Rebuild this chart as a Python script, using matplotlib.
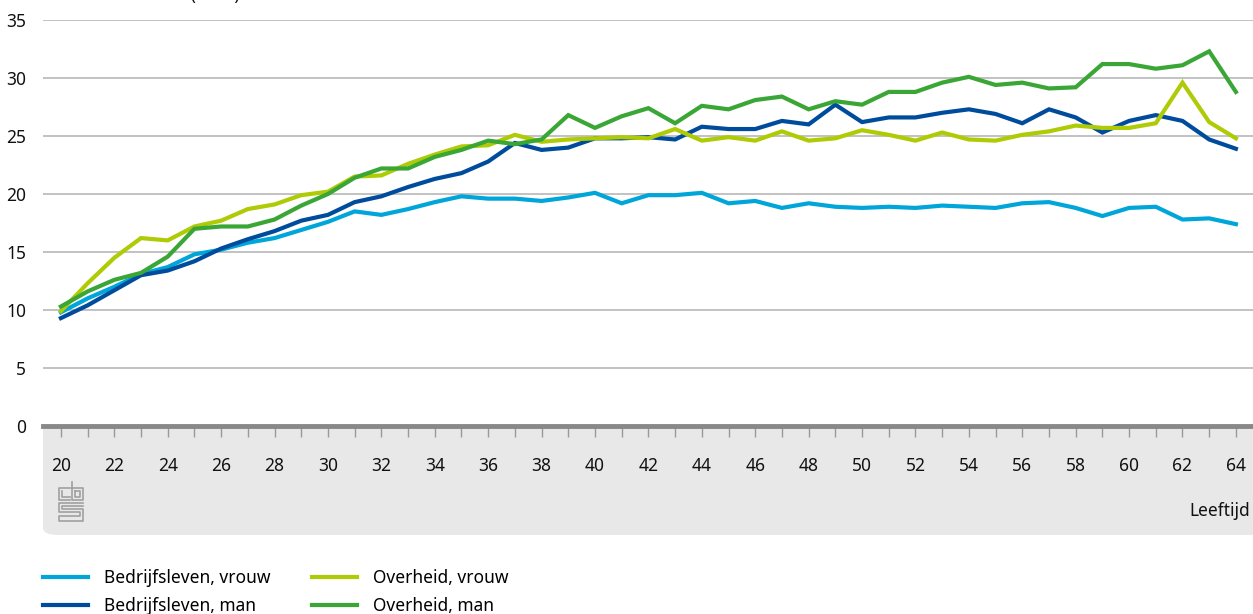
import numpy as np
import matplotlib
matplotlib.use("Agg")
import matplotlib.pyplot as plt
from matplotlib.patches import FancyBboxPatch
from matplotlib.lines import Line2D

plt.rcParams['font.family'] = ['Noto Sans', 'DejaVu Sans']

# data
leeftijd = list(range(20, 65))
bedrijf_vrouw = [9.8, 11.0, 12.0, 13.1, 13.7, 14.8, 15.2, 15.8, 16.2, 16.9,
                 17.6, 18.5, 18.2, 18.7, 19.3, 19.8, 19.6, 19.6, 19.4, 19.7,
                 20.1, 19.2, 19.9, 19.9, 20.1, 19.2, 19.4, 18.8, 19.2, 18.9,
                 18.8, 18.9, 18.8, 19.0, 18.9, 18.8, 19.2, 19.3, 18.8, 18.1,
                 18.8, 18.9, 17.8, 17.9, 17.4]
bedrijf_man = [9.3, 10.4, 11.7, 13.0, 13.4, 14.2, 15.3, 16.1, 16.8, 17.7,
               18.2, 19.3, 19.8, 20.6, 21.3, 21.8, 22.8, 24.4, 23.8, 24.0,
               24.8, 24.8, 24.9, 24.7, 25.8, 25.6, 25.6, 26.3, 26.0, 27.7,
               26.2, 26.6, 26.6, 27.0, 27.3, 26.9, 26.1, 27.3, 26.6, 25.3,
               26.3, 26.8, 26.3, 24.7, 23.9]
overheid_vrouw = [9.9, 12.3, 14.5, 16.2, 16.0, 17.2, 17.7, 18.7, 19.1, 19.9,
                  20.2, 21.5, 21.6, 22.6, 23.4, 24.1, 24.2, 25.1, 24.5, 24.7,
                  24.8, 24.9, 24.8, 25.6, 24.6, 24.9, 24.6, 25.4, 24.6, 24.8,
                  25.5, 25.1, 24.6, 25.3, 24.7, 24.6, 25.1, 25.4, 25.9, 25.7,
                  25.7, 26.1, 29.6, 26.2, 24.8]
overheid_man = [10.3, 11.6, 12.6, 13.2, 14.6, 17.0, 17.2, 17.2, 17.8, 19.0,
                20.0, 21.4, 22.2, 22.2, 23.2, 23.8, 24.6, 24.3, 24.7, 26.8,
                25.7, 26.7, 27.4, 26.1, 27.6, 27.3, 28.1, 28.4, 27.3, 28.0,
                27.7, 28.8, 28.8, 29.6, 30.1, 29.4, 29.6, 29.1, 29.2, 31.2,
                31.2, 30.8, 31.1, 32.3, 28.8]

series = [
    ("Bedrijfsleven, vrouw", bedrijf_vrouw, "#00a6d9"),
    ("Bedrijfsleven, man", bedrijf_man, "#004c9c"),
    ("Overheid, vrouw", overheid_vrouw, "#afcb05"),
    ("Overheid, man", overheid_man, "#3aa635"),
]

W, H = 1253, 614
fig = plt.figure(figsize=(W / 100, H / 100), dpi=100)
ax = fig.add_axes([43 / W, 1 - 426 / H, 1 - 43 / W, (426 - 20) / H])

# grey band under the x axis
band = FancyBboxPatch((43 / W, 1 - 535 / H), 1.2, (535 - 400) / H,
                      boxstyle="round,pad=0,rounding_size=0.012",
                      transform=fig.transFigure, facecolor="#e8e8e8",
                      edgecolor="none", zorder=-5)
fig.add_artist(band)

handles = []
for name, vals, col in series:
    h, = ax.plot(leeftijd, vals, color=col, lw=3.0, label=name,
                 solid_joinstyle="miter", zorder=3)
    handles.append(h)

ax.set_xlim(19.33, 64.64)
ax.set_ylim(0, 35)
ax.set_yticks(range(0, 36, 5))
ax.set_xticks(range(20, 65, 2))
ax.set_xticks(range(20, 65), minor=True)
ax.grid(axis="y", color="#bdbdbd", lw=1.3, zorder=0)
ax.axhline(0, color="#888888", lw=3.5, zorder=4, clip_on=False)
for s in ax.spines.values():
    s.set_visible(False)
ax.tick_params(axis="y", length=0, pad=12, labelsize=12.5, colors="#111111")
ax.tick_params(axis="x", which="both", length=8, width=1, color="#999999",
               direction="out")
ax.tick_params(axis="x", which="major", pad=14, labelsize=12.5,
               labelcolor="#111111")
ax.set_facecolor("white")

fig.text(1250 / W, 1 - 511 / H, "Leeftijd", ha="right", va="center",
         fontsize=12.5, color="#111111")
fig.text(240 / W, 1.0, "Uurloon (euro)", ha="right", va="baseline",
         fontsize=12.5, color="#111111")

# cbs logo (simplified)
logo = [
    [(70, 488), (59, 488), (59, 500), (70, 500)],
    [(62, 491), (62, 497), (70, 497)],
    [(72, 482), (72, 500), (83, 500), (83, 488), (72, 488)],
    [(75, 491), (80, 491), (80, 497), (75, 497), (75, 491)],
    [(83, 503), (59, 503), (59, 512), (80, 512), (80, 516), (59, 516), (59, 521), (83, 521), (83, 509), (62, 509), (62, 506), (83, 506)],
]
for pts in logo:
    xs = [p[0] / W for p in pts]
    ys = [1 - p[1] / H for p in pts]
    fig.add_artist(Line2D(xs, ys, color="#a0a0a0", lw=1.2,
                          transform=fig.transFigure))

fig.legend(handles=handles, loc="upper left", bbox_to_anchor=(43 / W, 1 - 569 / H),
           ncol=2, frameon=False, fontsize=12.5, handlelength=2.6,
           handletextpad=0.9, columnspacing=2.4, labelspacing=0.6,
           borderpad=0, borderaxespad=0)

fig.savefig("out.png", dpi=100)
